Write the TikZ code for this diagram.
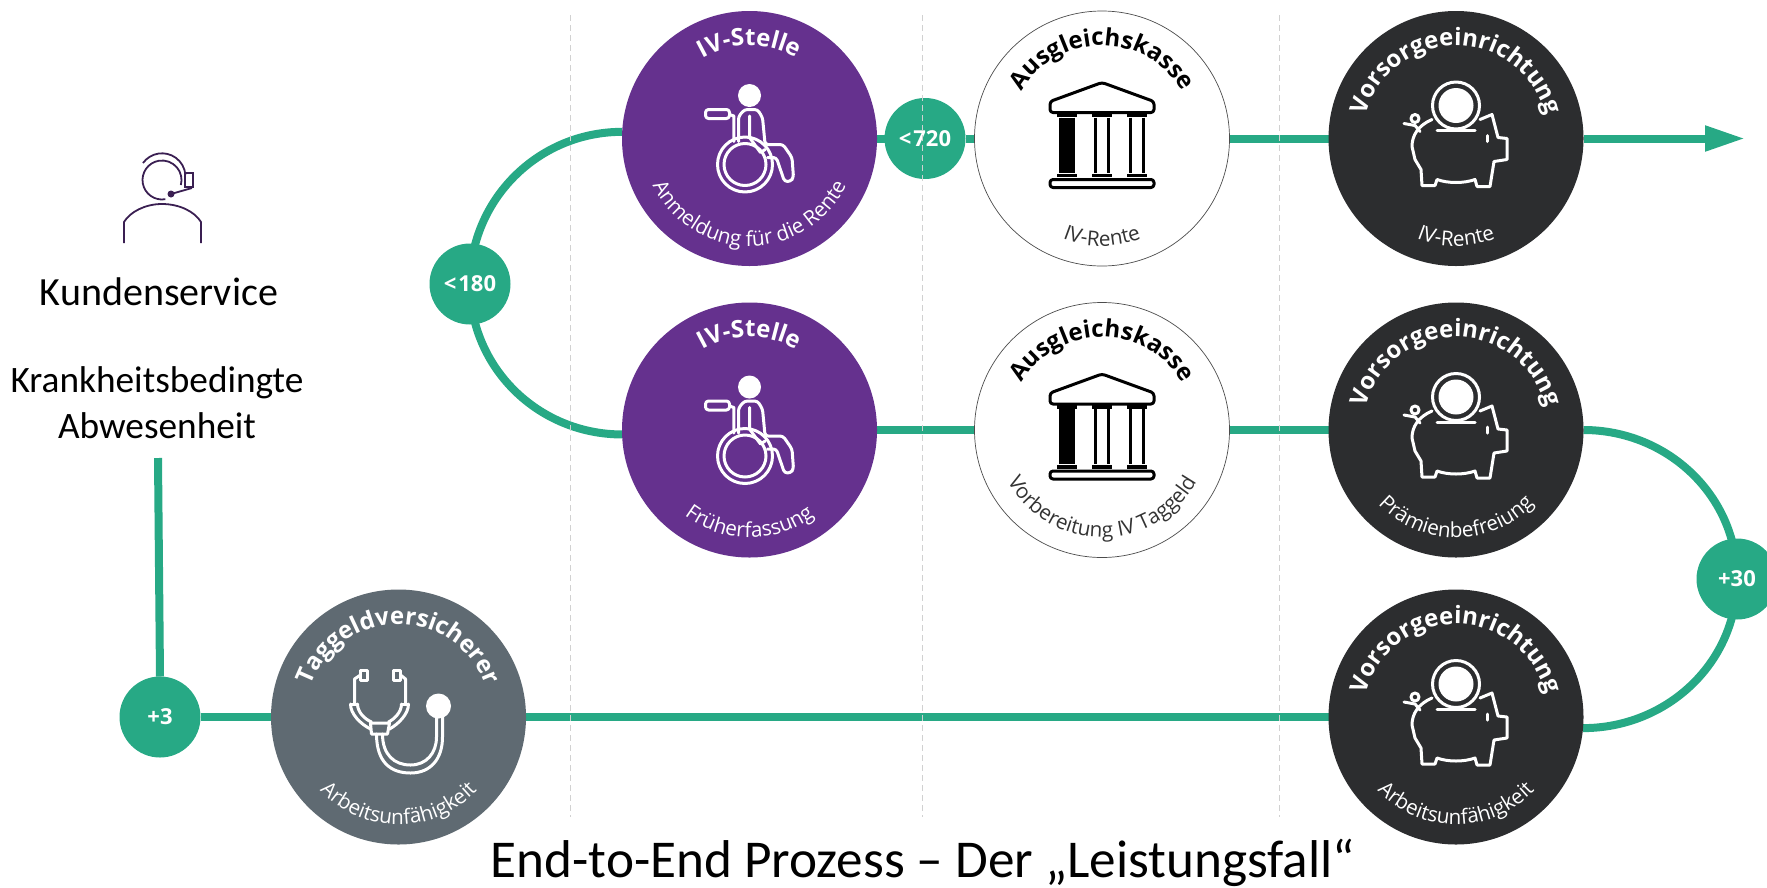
\documentclass[tikz,border=0pt]{standalone}
\usepackage{fontspec}
\setmainfont{Open Sans}
\newfontfamily\bigfont{Carlito}
\usetikzlibrary{arrows.meta,decorations.text,backgrounds}

\definecolor{flowgreen}{HTML}{27A985}
\definecolor{ivpurple}{HTML}{65318E}
\definecolor{vedark}{HTML}{2C2D2F}
\definecolor{tggray}{HTML}{5F6A72}
\definecolor{agentline}{HTML}{3A1F52}

\def\headfont{\fontsize{24}{25}\selectfont\bfseries}
\def\basefont{\fontsize{20.7}{21}\selectfont}

% text on the upper and lower rim of a big circle
\newcommand{\headarc}[3]{\path [decorate, decoration={text along path, text align=center, text color=#3, text={|\headfont|#2}}] (#1.center) ++(210:93) arc (210:-30:93);}
\newcommand{\basearc}[3]{\path [decorate, decoration={text along path, text align=center, text color=#3, text={|\basefont|#2}}] (#1.center) ++(-175:107.5) arc (-175:-5:107.5);}

\tikzset{
    bigcircle/.style={circle, minimum size=255pt, inner sep=0pt, outer sep=0pt},
    ivcircle/.style={bigcircle, fill=ivpurple},
    akcircle/.style={bigcircle, fill=white, draw=black!70, line width=0.7pt},
    vecircle/.style={bigcircle, fill=vedark},
    tgcircle/.style={bigcircle, fill=tggray},
    daycircle/.style={circle, minimum size=81pt, inner sep=0pt, outer sep=0pt, fill=flowgreen, text=white, font=\fontsize{22}{22}\selectfont\bfseries},
    flow/.style={draw=flowgreen, line width=8pt},
    divider/.style={draw=black!18, line width=0.8pt, dash pattern=on 6pt off 4pt},
    bigtext/.style={anchor=base, font=\bigfont\fontsize{#1}{#1}\selectfont},
    icon/.style={line width=3pt, line join=round, line cap=round},
    pics/wheelchair/.style={code={
        \begin{scope}[yscale=-1, icon, draw=white]
            \fill [white] (0,-43) circle (11.5);
            \draw [rounded corners=3pt] (-44,-29) rectangle (-20,-20);
            \draw (-20,-24) -- (-15.6,-22.5) -- (-15.6,3);
            \draw [rounded corners=3pt] (-11,3) -- (-11,-22) -- (-5,-29) -- (8,-29) -- (13,-21) -- (15.6,6) -- (33.5,6) -- (42.5,19) -- (44,39) -- (41,43) -- (35,43) -- (26.8,19) -- (18,19);
            \draw (0,-22.5) -- (0,-1) -- (11,14) -- (15.6,11);
            \draw (-4.5,26) circle (27.5);
            \draw (-4.5,26) circle (21);
        \end{scope}
    }},
    pics/bank/.style={code={
        \begin{scope}[yscale=-1, line width=3pt, line join=round, draw=black]
            \draw [rounded corners=3pt] (-52,-37) -- (0,-56) -- (52,-37) -- (52,-26) -- (-52,-26) -- cycle;
            \foreach \colx in {-35,0,35} {
                \draw (\colx-6.5,-21) -- (\colx-6.5,34) (\colx+6.5,-21) -- (\colx+6.5,34);
                \draw [line width=3.5pt] (\colx-10,-23) -- (\colx+10,-23) (\colx-10,37) -- (\colx+10,37);
            }
            \fill [black] (-43,-21) rectangle (-27,34);
            \draw [rounded corners=3pt] (-52,41) rectangle (52,49);
        \end{scope}
    }},
    pics/piggy/.style={code={
        \begin{scope}[yscale=-1, icon, draw=white]
            \draw (0,-33) circle (23.5);
            \fill [white] (0,-33) circle (17.5);
            \draw (-19,-8) -- (19,-8);
            \draw (-24,-19) .. controls (-38,-13) and (-44,-3) .. (-44,8) -- (-41,21) -- (-35,31) -- (-34,47) -- (-21,47) -- (-19,41) .. controls (-8,45) and (8,45) .. (19,41) -- (21,48) -- (34,48) -- (38,23) -- (51,21) -- (51,0) -- (42,-1) -- (36,-24) -- (24,-19);
            \draw (31,-3) -- (31,3);
            \draw (-41,-20) circle (4);
            \draw (-52,-15) -- (-41,-13) -- (-36,-7);
        \end{scope}
    }},
    pics/stethoscope/.style={code={
        \begin{scope}[yscale=-1, icon, draw=white]
            \draw (-38,-47) rectangle (-31,-37);
            \draw (-5,-47) rectangle (2,-37);
            \draw (-38,-42) -- (-44,-38) -- (-44,-13);
            \draw (2,-42) -- (7,-38) -- (7,-13);
            \draw (-48,-13) -- (-41,-13) (3,-13) -- (10,-13);
            \draw (-48,-13) .. controls (-48,-3) and (-38,7) .. (-28,12);
            \draw (-41,-13) .. controls (-41,-5) and (-34,2) .. (-27,5);
            \draw (10,-13) .. controls (10,-3) and (0,7) .. (-9,12);
            \draw (3,-13) .. controls (3,-5) and (-4,2) .. (-10,5);
            \draw (-28,6) -- (-9,6) -- (-11,17) -- (-27,17) -- cycle;
            \draw (-22,17) .. controls (-22,45) and (-8,56) .. (12,56) .. controls (32,56) and (44,42) .. (44,20) -- (44,0);
            \draw (-16,17) .. controls (-16,38) and (-4,48) .. (12,48) .. controls (28,48) and (38,36) .. (38,20) -- (38,0);
            \fill [white] (40,-11) circle (12.5);
        \end{scope}
    }},
}

\begin{document}
\begin{tikzpicture}[x=1pt, y=1pt]
    \useasboundingbox (0,-887) rectangle (1767,0);
    \clip (0,-887) rectangle (1767,0);

    % Big circles
    \node [ivcircle] (IVreg) at (749.5,-138.5) {};
    \node [akcircle] (AKrente) at (1102,-138.5) {};
    \node [vecircle] (VErente) at (1456,-138.5) {};
    \node [ivcircle] (IVfrueh) at (749.5,-430) {};
    \node [akcircle] (AKtag) at (1102,-430) {};
    \node [vecircle] (VEpraemie) at (1456,-430) {};
    \node [vecircle] (VEarbeit) at (1456,-717) {};
    \node [tgcircle] (TGarbeit) at (398.5,-717) {};

    % Day markers
    \node [daycircle] (Dplus3) at (160,-717) {+3};
    \node [daycircle] (Dless180) at (470,-284) {<\kern2pt180};
    \node [daycircle] (Dless720) at (925,-138.5) {<\kern2pt720};
    \node [daycircle] (Dplus30) at (1737,-579) {+30};

    \coordinate (flowstart) at (158,-458);
    \coordinate (flowend) at (1745,-138.5);

    % Connectors
    \begin{pgfonlayer}{background}
        \draw [flow] (flowstart) -- (Dplus3.north);
        \draw [flow] (Dplus3.east) -- (TGarbeit.west);
        \draw [flow] (TGarbeit.east) -- (VEarbeit.west);
        \draw [flow] (VEarbeit.-5) to[out=0, in=-90] (Dplus30.center);
        \draw [flow] (Dplus30.center) to[out=90, in=0] (VEpraemie.east);
        \draw [flow] (VEpraemie.west) -- (AKtag.east);
        \draw [flow] (AKtag.west) -- (IVfrueh.east);
        \draw [flow] (IVfrueh.182) to[out=180, in=-90] (Dless180.center);
        \draw [flow] (Dless180.center) to[out=90, in=180] (IVreg.177);
        \draw [flow] (IVreg.east) -- (Dless720.west);
        \draw [flow] (Dless720.east) -- (AKrente.west);
        \draw [flow] (AKrente.east) -- (VErente.west);
        \draw [flow, -{Triangle[length=40pt, width=24pt]}] (VErente.east) -- (flowend);
    \end{pgfonlayer}

    % Phase dividers
    \foreach \divx in {570,922,1279} {
        \draw [divider] (\divx,-15) -- (\divx,-817);
    }

    % Rim texts
    \headarc{IVreg}{IV-Stelle}{white}
    \basearc{IVreg}{Anmeldung für die Rente}{white}
    \headarc{IVfrueh}{IV-Stelle}{white}
    \basearc{IVfrueh}{Früherfassung}{white}
    \headarc{AKrente}{Ausgleichskasse}{black}
    \basearc{AKrente}{IV-Rente}{black!80}
    \headarc{AKtag}{Ausgleichskasse}{black}
    \basearc{AKtag}{Vorbereitung IV Taggeld}{black!80}
    \headarc{VErente}{Vorsorgeeinrichtung}{white}
    \basearc{VErente}{IV-Rente}{white}
    \headarc{VEpraemie}{Vorsorgeeinrichtung}{white}
    \basearc{VEpraemie}{Prämienbefreiung}{white}
    \headarc{VEarbeit}{Vorsorgeeinrichtung}{white}
    \basearc{VEarbeit}{Arbeitsunfähigkeit}{white}
    \headarc{TGarbeit}{Taggeldversicherer}{white}
    \basearc{TGarbeit}{Arbeitsunfähigkeit}{white}

    % Icons
    \pic at (IVreg) {wheelchair};
    \pic at (IVfrueh) {wheelchair};
    \pic at (AKrente) {bank};
    \pic at (AKtag) {bank};
    \pic at (VErente) {piggy};
    \pic at (VEpraemie) {piggy};
    \pic at (VEarbeit) {piggy};
    \pic at (TGarbeit) {stethoscope};

    % Customer service figure
    \begin{scope}[draw=agentline, line width=1.8pt]
        \draw (165.4,-199.2) arc (-80:-375:19.5);
        \draw (143,-163) arc (144:5:23.5);
        \draw (185,-173) rectangle (193,-187);
        \draw (192,-188) -- (171,-194);
        \fill [agentline] (171,-194) circle (3.5);
        \draw (124,-243) -- (124,-222) .. controls (130,-212) and (145,-204) .. (162,-204) .. controls (180,-204) and (195,-212) .. (201,-222) -- (201,-243);
    \end{scope}

    % Plain texts
    \node [bigtext=40] (service) at (159,-305) {Kundenservice};
    \node [bigtext=37.3] (absence1) at (157,-392) {Krankheitsbedingte};
    \node [bigtext=37.3] (absence2) at (157,-438) {Abwesenheit};
    \node [bigtext=53.2] (title) at (923,-877) {End-to-End Prozess – Der „Leistungsfall“};
\end{tikzpicture}
\end{document}
